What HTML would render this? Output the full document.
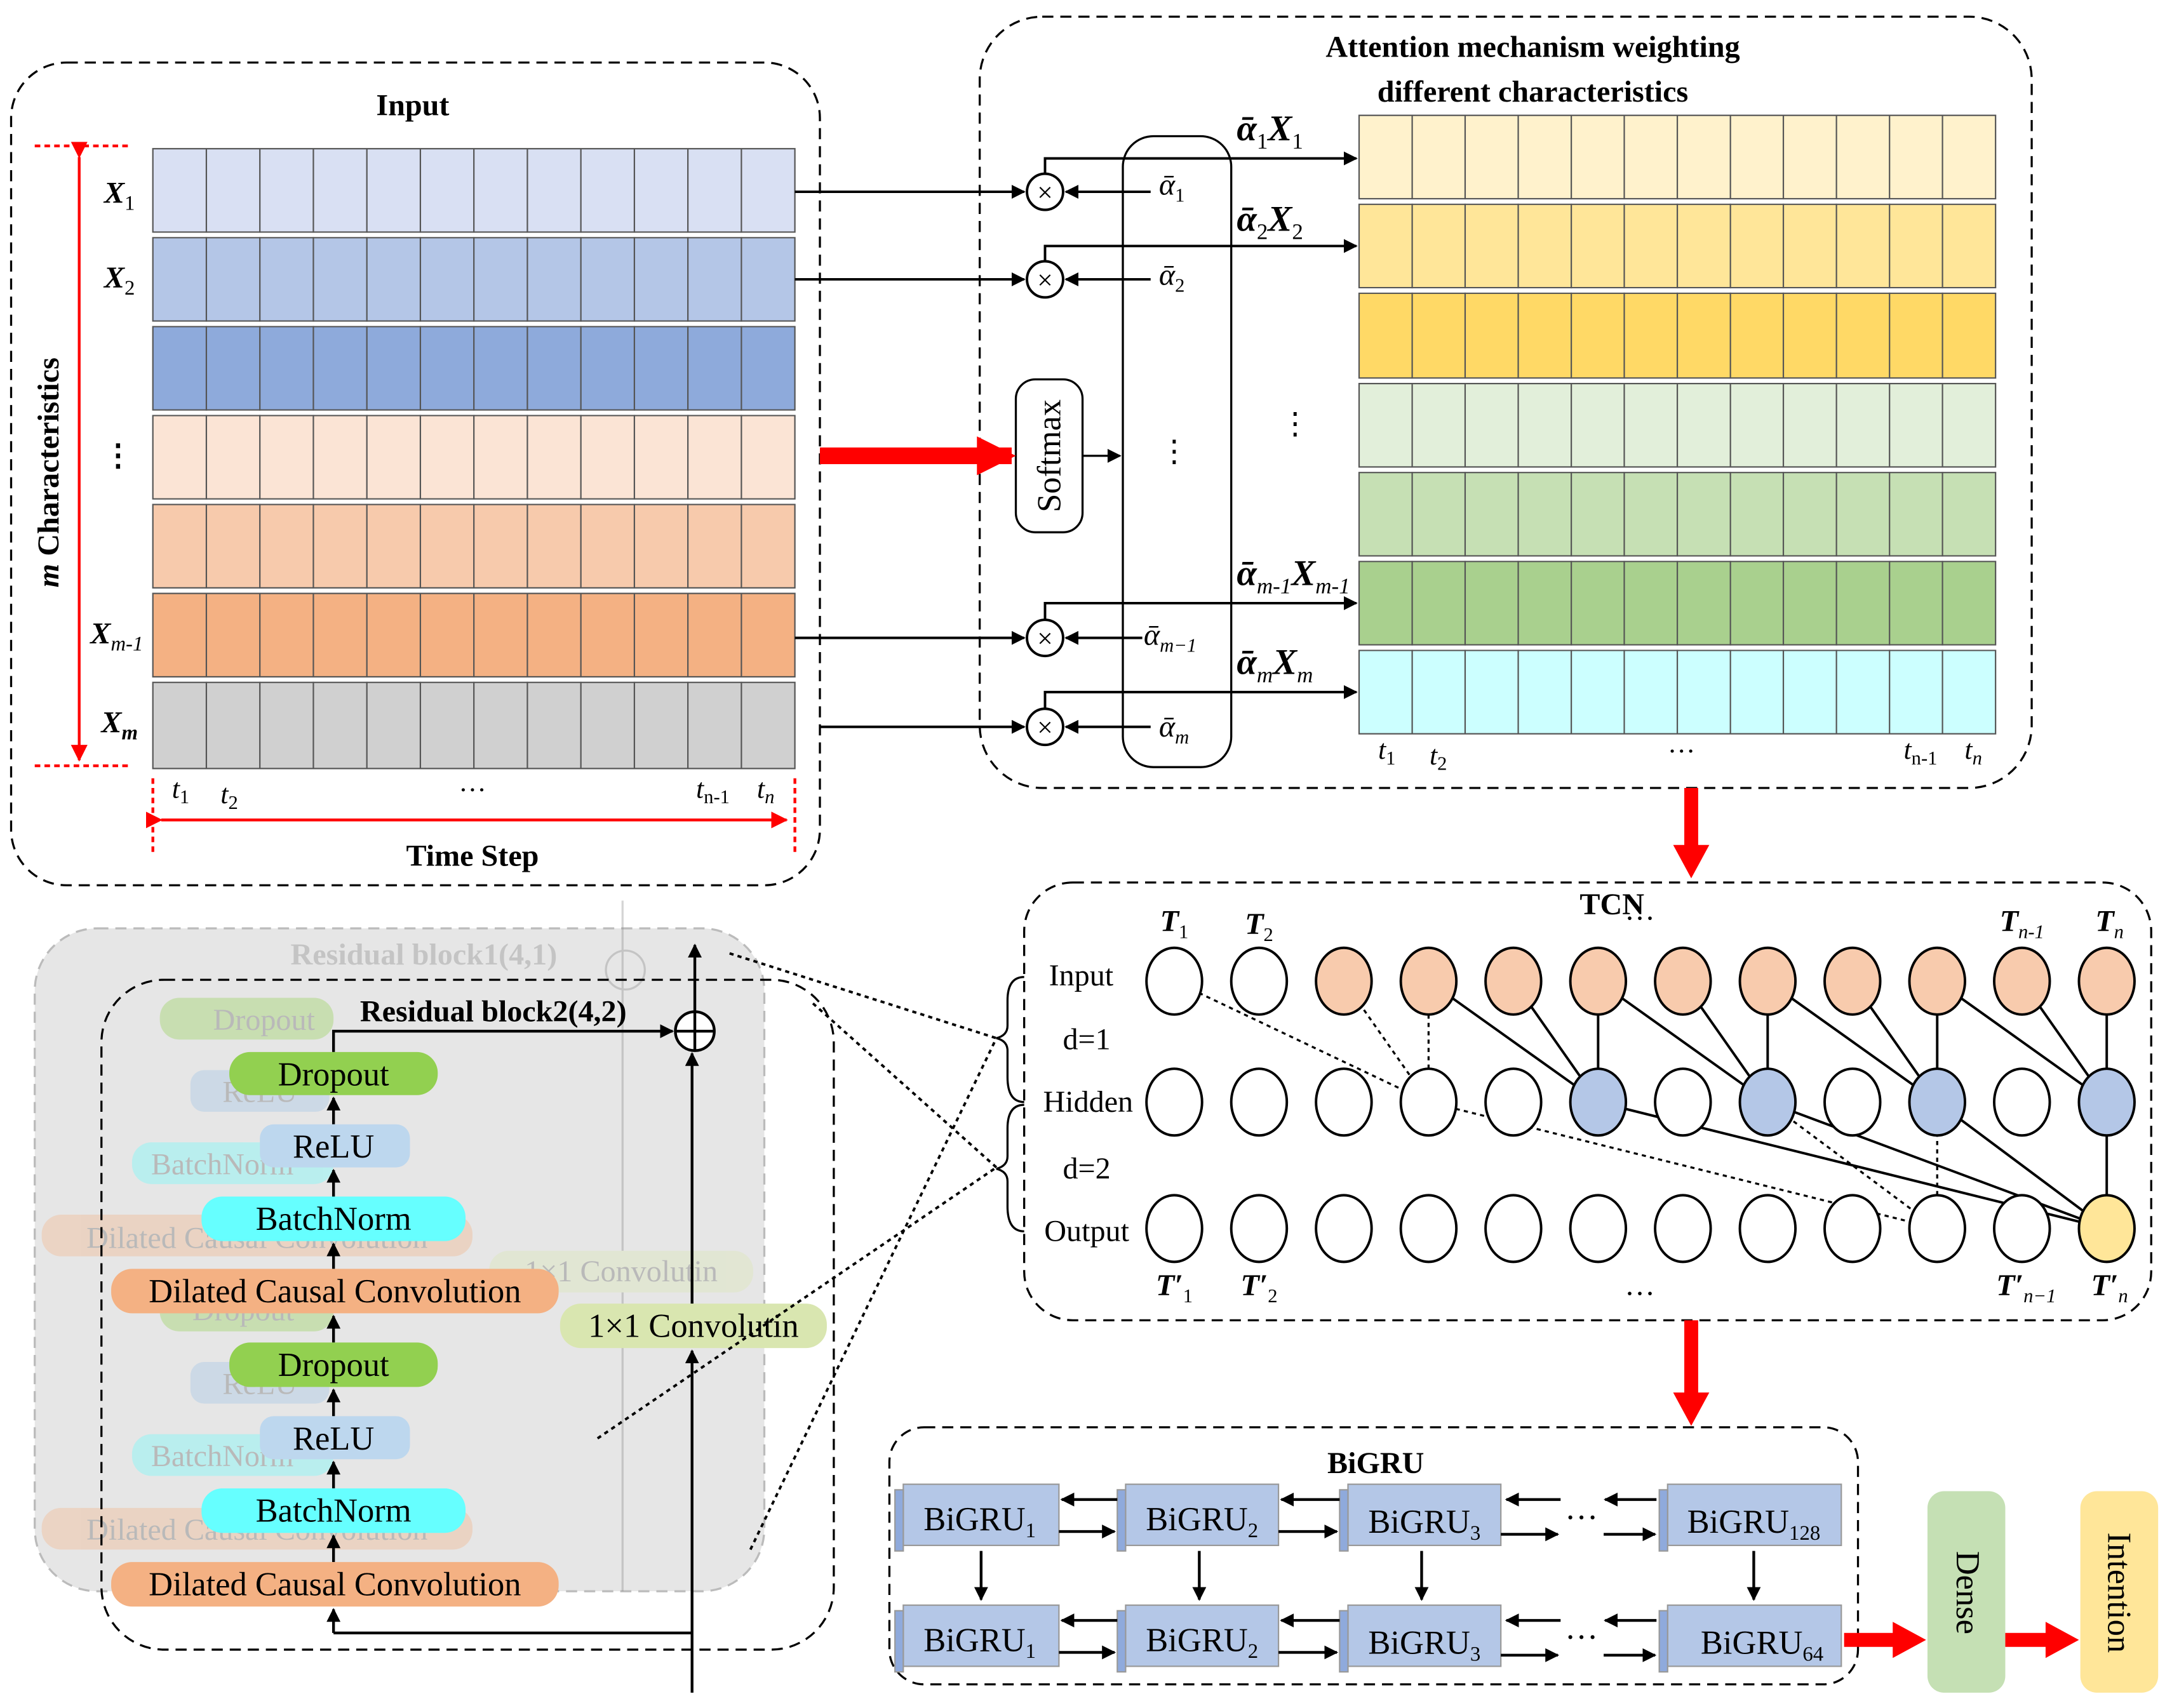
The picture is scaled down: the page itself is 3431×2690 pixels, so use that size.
<!DOCTYPE html>
<html><head><meta charset="utf-8"><style>html,body{margin:0;padding:0;background:#fff}svg{display:block}text{font-family:"Liberation Serif",serif}</style></head><body>
<svg width="3431" height="2690" viewBox="0 0 1568 1229" preserveAspectRatio="none" xmlns="http://www.w3.org/2000/svg">
<defs>
<marker id="a" markerWidth="10" markerHeight="10" refX="9" refY="5" orient="auto" markerUnits="userSpaceOnUse"><path d="M0,0L10,5L0,10z" fill="#000"/></marker>
<marker id="r" markerWidth="12" markerHeight="12" refX="11" refY="6" orient="auto" markerUnits="userSpaceOnUse"><path d="M0,0L12,6L0,12z" fill="red"/></marker>
</defs>
<g fill="none" stroke="#000" stroke-width="1.5" stroke-dasharray="8,5">
<rect x="8" y="45" width="582" height="592" rx="40"/>
<rect x="705" y="12" width="757" height="555" rx="45"/>
<rect x="737" y="635" width="811" height="315" rx="35"/>
<rect x="640" y="1027" width="697" height="185" rx="25"/>
</g>
<text x="297" y="83" font-size="22" font-weight="bold" text-anchor="middle">Input</text>
<g stroke="#555" stroke-width="1">
<rect x="110" y="107" width="462" height="60" fill="#d9e0f3"/>
<rect x="110" y="171" width="462" height="60" fill="#b4c6e7"/>
<rect x="110" y="235" width="462" height="60" fill="#8eaadb"/>
<rect x="110" y="299" width="462" height="60" fill="#fbe4d5"/>
<rect x="110" y="363" width="462" height="60" fill="#f7caac"/>
<rect x="110" y="427" width="462" height="60" fill="#f4b183"/>
<rect x="110" y="491" width="462" height="62" fill="#d0d0d0"/>
<path d="M148.5 107V553M187 107V553M225.5 107V553M264 107V553M302.5 107V553M341 107V553M379.5 107V553M418 107V553M456.5 107V553M495 107V553M533.5 107V553"/>
</g>
<g fill="#fff"><rect x="109" y="167.5" width="464" height="3"/><rect x="109" y="231.5" width="464" height="3"/><rect x="109" y="295.5" width="464" height="3"/><rect x="109" y="359.5" width="464" height="3"/><rect x="109" y="423.5" width="464" height="3"/><rect x="109" y="487.5" width="464" height="3"/></g>
<g font-size="22" font-style="italic" font-weight="bold" text-anchor="middle">
<text x="86" y="146">X<tspan font-size="15" font-weight="normal" font-style="normal" dy="5">1</tspan></text>
<text x="86" y="207">X<tspan font-size="15" font-weight="normal" font-style="normal" dy="5">2</tspan></text>
<text x="85" y="335" font-style="normal">⋮</text>
<text x="84" y="463">X<tspan font-size="15" font-style="italic" font-weight="normal" dy="5">m-1</tspan></text>
<text x="86" y="527">X<tspan font-size="15" dy="5">m</tspan></text>
</g>
<path d="M57 113V547" stroke="red" stroke-width="2" marker-start="url(#r)" marker-end="url(#r)"/>
<path d="M25 105H95M25 551H95" stroke="red" stroke-width="2" stroke-dasharray="4,3"/>
<text transform="translate(42,340) rotate(-90)" font-size="22" font-weight="bold" text-anchor="middle"><tspan font-style="italic">m</tspan> Characteristics</text>
<g font-size="20" font-style="italic" text-anchor="middle">
<text x="130" y="574">t<tspan font-size="14" font-style="normal" dy="4">1</tspan></text>
<text x="165" y="578">t<tspan font-size="14" font-style="normal" dy="4">2</tspan></text>
<text x="340" y="575" font-style="normal">···</text>
<text x="513" y="574">t<tspan font-size="14" font-style="normal" dy="4">n-1</tspan></text>
<text x="551" y="574">t<tspan font-size="14" dy="4">n</tspan></text>
</g>
<path d="M116 590H566" stroke="red" stroke-width="2" marker-start="url(#r)" marker-end="url(#r)"/>
<path d="M110 560V615M572 560V615" stroke="red" stroke-width="2" stroke-dasharray="4,3"/>
<text x="340" y="623" font-size="22" font-weight="bold" text-anchor="middle">Time Step</text>

<text x="1103" y="41" font-size="22" font-weight="bold" text-anchor="middle">Attention mechanism weighting</text>
<text x="1103" y="73" font-size="22" font-weight="bold" text-anchor="middle">different characteristics</text>
<g stroke="#555" stroke-width="1">
<rect x="978" y="83" width="458" height="60" fill="#fff2cc"/>
<rect x="978" y="147" width="458" height="60" fill="#ffe699"/>
<rect x="978" y="211" width="458" height="61" fill="#ffd966"/>
<rect x="978" y="276" width="458" height="60" fill="#e2efda"/>
<rect x="978" y="340" width="458" height="60" fill="#c6e0b4"/>
<rect x="978" y="404" width="458" height="60" fill="#a9d08e"/>
<rect x="978" y="468" width="458" height="60" fill="#ccffff"/>
<path d="M1016.2 83V528M1054.3 83V528M1092.5 83V528M1130.7 83V528M1168.8 83V528M1207 83V528M1245.2 83V528M1283.3 83V528M1321.5 83V528M1359.7 83V528M1397.8 83V528"/>
</g>
<g fill="#fff"><rect x="977" y="143.5" width="460" height="3"/><rect x="977" y="207.5" width="460" height="3"/><rect x="977" y="272.5" width="460" height="3"/><rect x="977" y="336.5" width="460" height="3"/><rect x="977" y="400.5" width="460" height="3"/><rect x="977" y="464.5" width="460" height="3"/></g>
<text x="932" y="312" font-size="22" text-anchor="middle">⋮</text>
<rect x="808" y="98" width="78" height="454" rx="22" fill="none" stroke="#000" stroke-width="1.5"/>
<text x="845" y="332" font-size="22" text-anchor="middle">⋮</text>
<rect x="731" y="273" width="48" height="110" rx="14" fill="#fff" stroke="#000" stroke-width="1.5"/>
<text transform="translate(763,328) rotate(-90)" font-size="24" text-anchor="middle">Softmax</text>
<path d="M590 328H728" stroke="red" stroke-width="12" />
<path d="M703 314L731 328L703 342z" fill="red"/>
<path d="M779 328H806" stroke="#000" stroke-width="1.5" marker-end="url(#a)"/>
<g stroke="#000" stroke-width="1.8" fill="none">
<path d="M572 138H737" marker-end="url(#a)"/>
<path d="M572 201H737" marker-end="url(#a)"/>
<path d="M572 459H737" marker-end="url(#a)"/>
<path d="M590 523H737" marker-end="url(#a)"/>
<path d="M828 138H767" marker-end="url(#a)"/>
<path d="M828 201H767" marker-end="url(#a)"/>
<path d="M822 459H767" marker-end="url(#a)"/>
<path d="M828 523H767" marker-end="url(#a)"/>
<path d="M752 125V114H976" marker-end="url(#a)"/>
<path d="M752 188V177H976" marker-end="url(#a)"/>
<path d="M752 446V434H976" marker-end="url(#a)"/>
<path d="M752 510V498H976" marker-end="url(#a)"/>
</g>
<g fill="#fff" stroke="#000" stroke-width="1.8">
<circle cx="752" cy="138" r="13"/><circle cx="752" cy="201" r="13"/><circle cx="752" cy="459" r="13"/><circle cx="752" cy="523" r="13"/>
</g>
<g font-size="20" text-anchor="middle"><text x="752" y="145">×</text><text x="752" y="208">×</text><text x="752" y="466">×</text><text x="752" y="530">×</text></g>
<g font-size="22" font-style="italic">
<text x="834" y="140">ᾱ<tspan font-size="14" font-style="normal" dy="5">1</tspan></text>
<text x="834" y="205">ᾱ<tspan font-size="14" font-style="normal" dy="5">2</tspan></text>
<text x="823" y="464">ᾱ<tspan font-size="14" dy="5">m−1</tspan></text>
<text x="834" y="530">ᾱ<tspan font-size="14" dy="5">m</tspan></text>
</g>
<g font-size="26" font-style="italic" font-weight="bold">
<text x="890" y="101">ᾱ<tspan font-size="16" font-weight="normal" font-style="normal" dy="6">1</tspan><tspan dy="-6">X</tspan><tspan font-size="16" font-weight="normal" font-style="normal" dy="6">1</tspan></text>
<text x="890" y="166">ᾱ<tspan font-size="16" font-weight="normal" font-style="normal" dy="6">2</tspan><tspan dy="-6">X</tspan><tspan font-size="16" font-weight="normal" font-style="normal" dy="6">2</tspan></text>
<text x="890" y="421">ᾱ<tspan font-size="16" font-weight="normal" dy="6">m-1</tspan><tspan dy="-6">X</tspan><tspan font-size="16" font-weight="normal" dy="6">m-1</tspan></text>
<text x="890" y="485">ᾱ<tspan font-size="16" font-weight="normal" dy="6">m</tspan><tspan dy="-6">X</tspan><tspan font-size="16" font-weight="normal" dy="6">m</tspan></text>
</g>
<g font-size="20" font-style="italic" text-anchor="middle">
<text x="998" y="546">t<tspan font-size="14" font-style="normal" dy="4">1</tspan></text>
<text x="1035" y="550">t<tspan font-size="14" font-style="normal" dy="4">2</tspan></text>
<text x="1210" y="547" font-style="normal">···</text>
<text x="1382" y="546">t<tspan font-size="14" font-style="normal" dy="4">n-1</tspan></text>
<text x="1420" y="546">t<tspan font-size="14" dy="4">n</tspan></text>
</g>
<path d="M1217 567V612" stroke="red" stroke-width="10"/><path d="M1204 608L1217 632L1230 608z" fill="red"/>

<text x="1160" y="658" font-size="22" font-weight="bold" text-anchor="middle">TCN</text>
<g font-size="22" text-anchor="middle">
<text x="778" y="709">Input</text><text x="782" y="755">d=1</text><text x="783" y="800">Hidden</text><text x="782" y="848">d=2</text><text x="782" y="893">Output</text>
<text x="1180" y="668">···</text><text x="1180" y="938">···</text>
</g>
<path d="M737 703Q725 703 725 720V738Q725 745 717 747Q725 749 725 756V775Q725 793 737 793M737 795Q725 795 725 812V832Q725 839 717 841Q725 843 725 850V868Q725 886 737 886" fill="none" stroke="#000" stroke-width="1.5"/>
<g font-size="22" font-style="italic" font-weight="bold" text-anchor="middle">
<text x="845" y="670">T<tspan font-size="14" font-weight="normal" font-style="normal" dy="5">1</tspan></text>
<text x="906" y="672">T<tspan font-size="14" font-weight="normal" font-style="normal" dy="5">2</tspan></text>
<text x="1455" y="670">T<tspan font-size="14" font-weight="normal" dy="5">n-1</tspan></text>
<text x="1518" y="670">T<tspan font-size="14" font-weight="normal" dy="5">n</tspan></text>
<text x="845" y="932">T′<tspan font-size="14" font-weight="normal" font-style="normal" dy="5">1</tspan></text>
<text x="906" y="932">T′<tspan font-size="14" font-weight="normal" font-style="normal" dy="5">2</tspan></text>
<text x="1458" y="932">T′<tspan font-size="14" font-weight="normal" dy="5">n−1</tspan></text>
<text x="1518" y="932">T′<tspan font-size="14" font-weight="normal" dy="5">n</tspan></text>
</g>
<g stroke="#000" stroke-width="1.8" fill="none">
<path d="M1150 793L1028 706M1150 793L1089 706M1150 793V706M1272 793L1150 706M1272 793L1211 706M1272 793V706M1394 793L1272 706M1394 793L1333 706M1394 793V706M1516 793L1394 706M1516 793L1455 706M1516 793V706"/>
<path d="M1516 884V793M1516 884L1394 793M1516 884L1272 793M1516 884L1150 793"/>
</g>
<g stroke="#000" stroke-width="1.5" fill="none" stroke-dasharray="3,3">
<path d="M1028 793L845 706M1028 793L967 706M1028 793V706"/>
<path d="M1394 884V793M1394 884L1272 793M1394 884L1028 793"/>
</g>
<g stroke="#000" stroke-width="1.8">
<g fill="#fff"><ellipse cx="845" cy="706" rx="20" ry="24"/><ellipse cx="906" cy="706" rx="20" ry="24"/></g>
<g fill="#f8cbad"><ellipse cx="967" cy="706" rx="20" ry="24"/><ellipse cx="1028" cy="706" rx="20" ry="24"/><ellipse cx="1089" cy="706" rx="20" ry="24"/><ellipse cx="1150" cy="706" rx="20" ry="24"/><ellipse cx="1211" cy="706" rx="20" ry="24"/><ellipse cx="1272" cy="706" rx="20" ry="24"/><ellipse cx="1333" cy="706" rx="20" ry="24"/><ellipse cx="1394" cy="706" rx="20" ry="24"/><ellipse cx="1455" cy="706" rx="20" ry="24"/><ellipse cx="1516" cy="706" rx="20" ry="24"/></g>
<g fill="#fff"><ellipse cx="845" cy="793" rx="20" ry="24"/><ellipse cx="906" cy="793" rx="20" ry="24"/><ellipse cx="967" cy="793" rx="20" ry="24"/><ellipse cx="1028" cy="793" rx="20" ry="24"/><ellipse cx="1089" cy="793" rx="20" ry="24"/><ellipse cx="1211" cy="793" rx="20" ry="24"/><ellipse cx="1333" cy="793" rx="20" ry="24"/><ellipse cx="1455" cy="793" rx="20" ry="24"/></g>
<g fill="#b4c7e7"><ellipse cx="1150" cy="793" rx="20" ry="24"/><ellipse cx="1272" cy="793" rx="20" ry="24"/><ellipse cx="1394" cy="793" rx="20" ry="24"/><ellipse cx="1516" cy="793" rx="20" ry="24"/></g>
<g fill="#fff"><ellipse cx="845" cy="884" rx="20" ry="24"/><ellipse cx="906" cy="884" rx="20" ry="24"/><ellipse cx="967" cy="884" rx="20" ry="24"/><ellipse cx="1028" cy="884" rx="20" ry="24"/><ellipse cx="1089" cy="884" rx="20" ry="24"/><ellipse cx="1150" cy="884" rx="20" ry="24"/><ellipse cx="1211" cy="884" rx="20" ry="24"/><ellipse cx="1272" cy="884" rx="20" ry="24"/><ellipse cx="1333" cy="884" rx="20" ry="24"/><ellipse cx="1394" cy="884" rx="20" ry="24"/><ellipse cx="1455" cy="884" rx="20" ry="24"/></g>
<ellipse cx="1516" cy="884" rx="20" ry="24" fill="#ffe699"/>
</g>
<path d="M1217 950V1005" stroke="red" stroke-width="10"/><path d="M1204 1002L1217 1026L1230 1002z" fill="red"/>

<text x="990" y="1060" font-size="22" font-weight="bold" text-anchor="middle">BiGRU</text>
<g stroke="#999" stroke-width="1">
<g fill="#b4c7e7">
<rect x="650" y="1068" width="112" height="44"/><rect x="810" y="1068" width="110" height="44"/><rect x="970" y="1068" width="110" height="44"/><rect x="1200" y="1068" width="125" height="44"/>
<rect x="650" y="1155" width="112" height="44"/><rect x="810" y="1155" width="110" height="44"/><rect x="970" y="1155" width="110" height="44"/><rect x="1200" y="1155" width="125" height="44"/>
</g>
<g fill="#8faadc">
<rect x="644" y="1072" width="6" height="44"/><rect x="804" y="1072" width="6" height="44"/><rect x="964" y="1072" width="6" height="44"/><rect x="1194" y="1072" width="6" height="44"/>
<rect x="644" y="1159" width="6" height="44"/><rect x="804" y="1159" width="6" height="44"/><rect x="964" y="1159" width="6" height="44"/><rect x="1194" y="1159" width="6" height="44"/>
</g>
</g>
<g font-size="24" text-anchor="middle">
<text x="705" y="1101">BiGRU<tspan font-size="15" dy="5">1</tspan></text><text x="865" y="1101">BiGRU<tspan font-size="15" dy="5">2</tspan></text><text x="1025" y="1103">BiGRU<tspan font-size="15" dy="5">3</tspan></text><text x="1262" y="1103">BiGRU<tspan font-size="15" dy="5">128</tspan></text>
<text x="705" y="1188">BiGRU<tspan font-size="15" dy="5">1</tspan></text><text x="865" y="1188">BiGRU<tspan font-size="15" dy="5">2</tspan></text><text x="1025" y="1190">BiGRU<tspan font-size="15" dy="5">3</tspan></text><text x="1268" y="1190">BiGRU<tspan font-size="15" dy="5">64</tspan></text>
<text x="1138" y="1100">···</text><text x="1138" y="1186">···</text>
</g>
<g stroke="#000" stroke-width="2" fill="none">
<path d="M804 1079H764" marker-end="url(#a)"/><path d="M762 1102H802" marker-end="url(#a)"/>
<path d="M964 1079H922" marker-end="url(#a)"/><path d="M920 1102H962" marker-end="url(#a)"/>
<path d="M1123 1079H1084" marker-end="url(#a)"/><path d="M1080 1104H1121" marker-end="url(#a)"/>
<path d="M1192 1079H1155" marker-end="url(#a)"/><path d="M1154 1104H1191" marker-end="url(#a)"/>
<path d="M804 1166H764" marker-end="url(#a)"/><path d="M762 1189H802" marker-end="url(#a)"/>
<path d="M964 1166H922" marker-end="url(#a)"/><path d="M920 1189H962" marker-end="url(#a)"/>
<path d="M1123 1166H1084" marker-end="url(#a)"/><path d="M1080 1191H1121" marker-end="url(#a)"/>
<path d="M1192 1166H1155" marker-end="url(#a)"/><path d="M1154 1191H1191" marker-end="url(#a)"/>
<path d="M706 1116V1151" marker-end="url(#a)"/><path d="M863 1116V1151" marker-end="url(#a)"/><path d="M1023 1116V1151" marker-end="url(#a)"/><path d="M1262 1116V1151" marker-end="url(#a)"/>
</g>
<path d="M1327 1180H1365" stroke="red" stroke-width="10"/><path d="M1362 1167L1386 1180L1362 1193z" fill="red"/>
<path d="M1443 1180H1475" stroke="red" stroke-width="10"/><path d="M1472 1167L1496 1180L1472 1193z" fill="red"/>
<rect x="1387" y="1073" width="56" height="145" rx="12" fill="#c5e0b4"/>
<text transform="translate(1408,1146) rotate(90)" font-size="24" text-anchor="middle">Dense</text>
<rect x="1497" y="1073" width="56" height="145" rx="12" fill="#ffe699"/>
<text transform="translate(1517,1146) rotate(90)" font-size="24" text-anchor="middle">Intention</text>

<rect x="25" y="668" width="525" height="477" rx="45" fill="#e6e6e6" stroke="#bbb" stroke-width="1.5" stroke-dasharray="8,5"/>
<g opacity="0.35">
<text x="305" y="694" font-size="22" font-weight="bold" text-anchor="middle" fill="#888">Residual block1(4,1)</text>
<path d="M448 648V1145" stroke="#888" stroke-width="1.5"/>
<circle cx="450" cy="698" r="14" fill="none" stroke="#888" stroke-width="1.5"/>
<rect x="115" y="718" width="125" height="30" rx="14" fill="#92d050"/><text x="190" y="741" font-size="22" text-anchor="middle" fill="#666">Dropout</text>
<rect x="137" y="770" width="100" height="30" rx="10" fill="#9dc3e6"/><text x="187" y="793" font-size="22" text-anchor="middle" fill="#666">ReLU</text>
<rect x="95" y="822" width="145" height="30" rx="14" fill="#66ffff"/><text x="160" y="845" font-size="22" text-anchor="middle" fill="#666">BatchNorm</text>
<rect x="30" y="874" width="310" height="30" rx="14" fill="#f4b183"/><text x="185" y="898" font-size="22" text-anchor="middle" fill="#666">Dilated Causal Convolution</text>
<rect x="352" y="900" width="190" height="30" rx="14" fill="#d9e6b0"/><text x="447" y="922" font-size="22" text-anchor="middle" fill="#666">1×1 Convolutin</text>
<rect x="115" y="928" width="125" height="30" rx="14" fill="#92d050"/><text x="175" y="950" font-size="22" text-anchor="middle" fill="#666">Dropout</text>
<rect x="137" y="980" width="100" height="30" rx="10" fill="#9dc3e6"/><text x="187" y="1003" font-size="22" text-anchor="middle" fill="#666">ReLU</text>
<rect x="95" y="1032" width="145" height="30" rx="14" fill="#66ffff"/><text x="160" y="1055" font-size="22" text-anchor="middle" fill="#666">BatchNorm</text>
<rect x="30" y="1085" width="310" height="30" rx="14" fill="#f4b183"/><text x="185" y="1108" font-size="22" text-anchor="middle" fill="#666">Dilated Causal Convolution</text>
</g>
<rect x="73" y="705" width="527" height="482" rx="45" fill="none" stroke="#000" stroke-width="1.5" stroke-dasharray="8,5"/>
<text x="355" y="735" font-size="22" font-weight="bold" text-anchor="middle">Residual block2(4,2)</text>
<g stroke="#000" stroke-width="2" fill="none">
<path d="M240 1175V1158" marker-end="url(#a)"/>
<path d="M240 1124V1105" marker-end="url(#a)"/>
<path d="M240 1071V1052" marker-end="url(#a)"/>
<path d="M240 1019V1000" marker-end="url(#a)"/>
<path d="M240 966V947" marker-end="url(#a)"/>
<path d="M240 913V895" marker-end="url(#a)"/>
<path d="M240 861V842" marker-end="url(#a)"/>
<path d="M240 809V790" marker-end="url(#a)"/>
<path d="M240 757V742H484" marker-end="url(#a)"/>
<path d="M240 1175H498"/>
<path d="M498 1218V972" marker-end="url(#a)"/>
<path d="M498 938V758" marker-end="url(#a)"/>
<path d="M500 728V680" marker-end="url(#a)"/>
</g>
<circle cx="500" cy="742" r="14" fill="#fff" stroke="#000" stroke-width="2"/>
<path d="M486 742H514M500 728V756" stroke="#000" stroke-width="2"/>
<rect x="165" y="757" width="150" height="31" rx="15" fill="#92d050"/><text x="240" y="781" font-size="24" text-anchor="middle">Dropout</text>
<rect x="187" y="809" width="108" height="31" rx="10" fill="#bdd7ee"/><text x="240" y="833" font-size="24" text-anchor="middle">ReLU</text>
<rect x="145" y="861" width="190" height="32" rx="15" fill="#66ffff"/><text x="240" y="885" font-size="24" text-anchor="middle">BatchNorm</text>
<rect x="80" y="913" width="322" height="32" rx="15" fill="#f4b183"/><text x="241" y="937" font-size="24" text-anchor="middle">Dilated Causal Convolution</text>
<rect x="403" y="938" width="192" height="32" rx="15" fill="#d9e6b0"/><text x="499" y="962" font-size="24" text-anchor="middle">1×1 Convolutin</text>
<rect x="165" y="966" width="150" height="32" rx="15" fill="#92d050"/><text x="240" y="990" font-size="24" text-anchor="middle">Dropout</text>
<rect x="187" y="1019" width="108" height="31" rx="10" fill="#bdd7ee"/><text x="240" y="1043" font-size="24" text-anchor="middle">ReLU</text>
<rect x="145" y="1071" width="190" height="32" rx="15" fill="#66ffff"/><text x="240" y="1095" font-size="24" text-anchor="middle">BatchNorm</text>
<rect x="80" y="1124" width="322" height="32" rx="15" fill="#f4b183"/><text x="241" y="1148" font-size="24" text-anchor="middle">Dilated Causal Convolution</text>
<g stroke="#000" stroke-width="1.8" stroke-dasharray="3,3" fill="none">
<path d="M525 686L717 747"/><path d="M585 722L717 840"/><path d="M540 1115L717 747"/><path d="M430 1035L717 840"/>
</g>
</svg>
</body></html>
